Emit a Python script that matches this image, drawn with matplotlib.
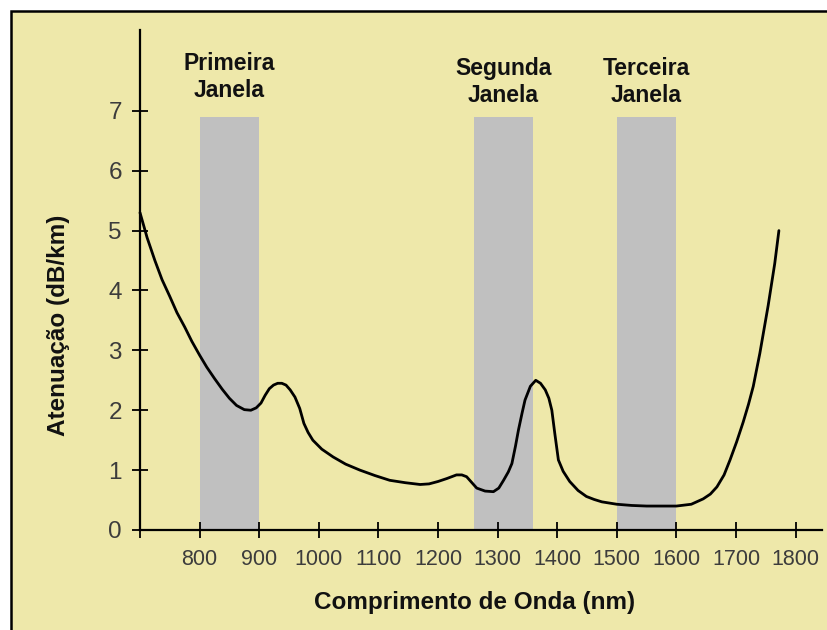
import matplotlib
matplotlib.use("Agg")
import matplotlib.pyplot as plt
from matplotlib import font_manager
from matplotlib.patches import Rectangle

# curva de atenuação
comprimento = [700, 712, 725, 737, 750, 762, 775, 787, 800, 812, 825, 838, 850,
               862, 875, 886, 895, 903, 910, 917, 924, 931, 938, 945, 952, 960,
               968, 975, 982, 990, 1005, 1024, 1045, 1069, 1094, 1119, 1145,
               1170, 1185, 1200, 1215, 1231, 1240, 1248, 1256, 1265, 1279, 1293,
               1302, 1310, 1318, 1324, 1330, 1335, 1341, 1346, 1355, 1364, 1372,
               1380, 1386, 1391, 1396, 1402, 1410, 1421, 1435, 1449, 1462, 1475,
               1500, 1525, 1550, 1575, 1600, 1625, 1645, 1657, 1668, 1680, 1690,
               1701, 1712, 1721, 1729, 1740, 1754, 1765, 1772]
atenuacao = [5.30, 4.88, 4.50, 4.18, 3.90, 3.63, 3.39, 3.15, 2.92, 2.72, 2.53,
             2.35, 2.20, 2.08, 2.01, 2.00, 2.04, 2.12, 2.25, 2.36, 2.42, 2.45,
             2.45, 2.42, 2.34, 2.22, 2.03, 1.78, 1.63, 1.50, 1.35, 1.22, 1.10,
             1.00, 0.91, 0.83, 0.79, 0.76, 0.77, 0.81, 0.86, 0.92, 0.92, 0.89,
             0.80, 0.70, 0.65, 0.64, 0.70, 0.83, 0.97, 1.11, 1.40, 1.67, 1.95,
             2.17, 2.40, 2.50, 2.45, 2.34, 2.20, 2.00, 1.61, 1.17, 0.98, 0.81,
             0.66, 0.56, 0.51, 0.47, 0.43, 0.41, 0.40, 0.40, 0.40, 0.43, 0.52,
             0.60, 0.72, 0.92, 1.17, 1.47, 1.80, 2.10, 2.40, 2.95, 3.75, 4.45,
             5.00]

janelas_nomes = ["Primeira\nJanela", "Segunda\nJanela", "Terceira\nJanela"]
janelas_ini = [800, 1260, 1500]
janelas_fim = [900, 1360, 1600]
janelas_topo = 6.9

x_ticks = [700, 800, 900, 1000, 1100, 1200, 1300, 1400, 1500, 1600, 1700, 1800]
x_labels = [""] + [str(v) for v in x_ticks[1:]]
y_ticks = [0, 1, 2, 3, 4, 5, 6, 7]

fundo = "#EEE8AA"
cinza = "#C0C0C0"
cor_ticks = "#3c3c3c"


def fonte_estreita():
    """Procura uma fonte condensada para os ticks do eixo x"""
    for nome in ["Liberation Sans Narrow", "DejaVu Sans Condensed"]:
        try:
            font_manager.findfont(nome, fallback_to_default=False)
            return nome, 18
        except ValueError:
            pass
    return "Liberation Sans", 15.5


familia_x, tamanho_x = fonte_estreita()

fig = plt.figure(figsize=(8.28, 6.30), dpi=100, facecolor="white")

# painel amarelo com borda
painel = Rectangle((11 / 828, -0.1), 2, (630 - 10.5) / 630 + 0.1,
                   transform=fig.transFigure, facecolor=fundo,
                   edgecolor="black", linewidth=1.8, zorder=-1)
fig.patches.append(painel)

ax = fig.add_axes([140 / 828, 100 / 630, 681.7 / 828, 500 / 630])
ax.set_facecolor("none")
ax.set_xlim(700, 1843.8)
ax.set_ylim(0, 8.35)

for ini, fim in zip(janelas_ini, janelas_fim):
    ax.fill_between([ini, fim], 0, janelas_topo, color=cinza, linewidth=0, zorder=1)

ax.plot(comprimento, atenuacao, color="black", linewidth=2.0,
        solid_joinstyle="round", solid_capstyle="round", zorder=3, clip_on=False)

topos = [7.98, 7.90, 7.90]
for nome, ini, fim, topo in zip(janelas_nomes, janelas_ini, janelas_fim, topos):
    ax.text((ini + fim) / 2, topo, nome, ha="center", va="top",
            fontsize=16.5, fontweight="bold", family="Liberation Sans",
            color="#111111", linespacing=1.22)

for lado in ["top", "right"]:
    ax.spines[lado].set_visible(False)
for lado in ["left", "bottom"]:
    ax.spines[lado].set_linewidth(1.6)

ax.set_xticks(x_ticks)
ax.set_xticklabels(x_labels, family=familia_x, fontsize=tamanho_x, color=cor_ticks)
ax.set_yticks(y_ticks)
ax.set_yticklabels([str(v) for v in y_ticks], family="Liberation Sans",
                   fontsize=17.5, color=cor_ticks)
ax.tick_params(axis="both", direction="inout", length=12, width=1.3)
ax.tick_params(axis="x", pad=8)
ax.tick_params(axis="y", pad=7)

fig.text(58 / 828, 1 - 325 / 630, "Atenuação (dB/km)", rotation=90,
         ha="center", va="center", fontsize=17.5, fontweight="bold",
         family="Liberation Sans", color="#111111")
fig.text(474.5 / 828, 1 - 602 / 630, "Comprimento de Onda (nm)",
         ha="center", va="center", fontsize=17.5, fontweight="bold",
         family="Liberation Sans", color="#111111")

fig.savefig("out.png", dpi=100, facecolor="white")
